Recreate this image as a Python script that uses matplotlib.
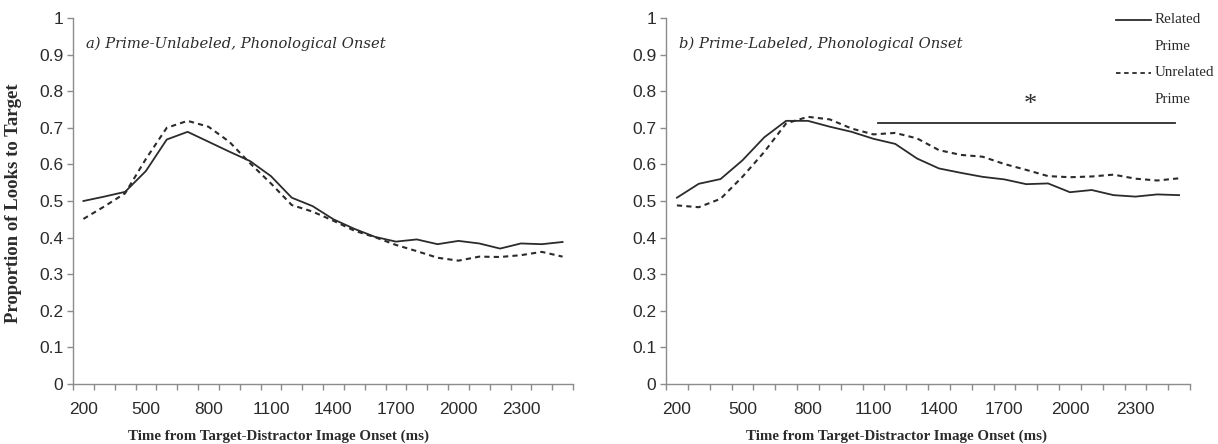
import numpy as np
import matplotlib
matplotlib.use("Agg")
import matplotlib.pyplot as plt
from matplotlib.lines import Line2D

# 100 ms time bins (categories on the x axis)
times = [200, 300, 400, 500, 600, 700, 800, 900, 1000, 1100, 1200, 1300,
         1400, 1500, 1600, 1700, 1800, 1900, 2000, 2100, 2200, 2300, 2400, 2500]
shown_labels = [200, 500, 800, 1100, 1400, 1700, 2000, 2300]
y_ticks = [0, 0.1, 0.2, 0.3, 0.4, 0.5, 0.6, 0.7, 0.8, 0.9, 1]

# a) Prime-Unlabeled
unlab_related = [0.500, 0.512, 0.525, 0.582, 0.668, 0.689, 0.662, 0.635,
                 0.609, 0.568, 0.509, 0.486, 0.450, 0.424, 0.402, 0.389,
                 0.395, 0.382, 0.391, 0.384, 0.370, 0.384, 0.382, 0.388]
unlab_unrelated = [0.451, 0.485, 0.521, 0.615, 0.700, 0.719, 0.703, 0.662,
                   0.603, 0.548, 0.489, 0.471, 0.446, 0.419, 0.401, 0.380,
                   0.363, 0.345, 0.337, 0.348, 0.347, 0.352, 0.361, 0.348]

# b) Prime-Labeled
lab_related = [0.509, 0.547, 0.560, 0.611, 0.674, 0.719, 0.719, 0.703,
               0.689, 0.670, 0.656, 0.616, 0.589, 0.577, 0.566, 0.559,
               0.546, 0.548, 0.524, 0.530, 0.516, 0.512, 0.518, 0.516]
lab_unrelated = [0.488, 0.483, 0.506, 0.566, 0.634, 0.712, 0.730, 0.723,
                 0.698, 0.682, 0.686, 0.671, 0.639, 0.626, 0.621, 0.601,
                 0.585, 0.568, 0.565, 0.567, 0.572, 0.561, 0.556, 0.562]

# significance bar in panel b
sig_start, sig_end, sig_level = 1120, 2480, 0.712
star_time, star_level = 1820, 0.762

W, H = 1218, 444
GREY = '#8c8c8c'
INK = '#2b2b2b'
TICKFONT = ['Liberation Sans', 'DejaVu Sans']
SERIF = ['Liberation Serif', 'DejaVu Serif']
DASH = (0, (2.5, 2))


def setup_axis(ax, title):
	"""Excel-like category axis with only left and bottom spines"""
	pos = np.arange(len(times)) + 0.5
	ax.set_xlim(0, len(times))
	ax.set_ylim(0, 1)
	for side in ['top', 'right']:
		ax.spines[side].set_visible(False)
	for side in ['left', 'bottom']:
		ax.spines[side].set_color(GREY)
		ax.spines[side].set_linewidth(1.0)

	# tick marks at category borders, labels at category centres
	ax.set_xticks(np.arange(len(times) + 1))
	ax.set_xticklabels([])
	lab_pos = [pos[times.index(t)] for t in shown_labels]
	ax.set_xticks(lab_pos, [str(t) for t in shown_labels], minor=True)
	ax.tick_params(axis='x', which='major', length=4.5, color=GREY, width=1.0)
	ax.tick_params(axis='x', which='minor', length=0, pad=13, labelsize=12.5, labelcolor=INK)

	ax.set_yticks(y_ticks, [('%g' % v) for v in y_ticks])
	ax.tick_params(axis='y', length=4, color=GREY, width=1.0, pad=3, labelsize=12.5, labelcolor=INK)
	for lab in ax.get_xticklabels(minor=True) + ax.get_yticklabels():
		lab.set_family(TICKFONT)

	ax.text(0.025, 0.93, title, transform=ax.transAxes, fontsize=10.6, style='italic',
			family=['DejaVu Serif'], color=INK, va='center', ha='left')
	return pos


fig = plt.figure(figsize=(W / 100, H / 100), dpi=100)
ax1 = fig.add_axes([73 / W, 60 / H, 500 / W, 366 / H])
ax2 = fig.add_axes([666 / W, 60 / H, 524 / W, 366 / H])

pos = setup_axis(ax1, 'a) Prime-Unlabeled, Phonological Onset')
ax1.plot(pos, unlab_related, color=INK, lw=1.3)
ax1.plot(pos, unlab_unrelated, color=INK, lw=1.5, ls=DASH)

pos = setup_axis(ax2, 'b) Prime-Labeled, Phonological Onset')
ax2.plot(pos, lab_related, color=INK, lw=1.3)
ax2.plot(pos, lab_unrelated, color=INK, lw=1.5, ls=DASH)

# significance bar and star
x0, x1 = np.interp([sig_start, sig_end], times, pos)
ax2.plot([x0, x1], [sig_level, sig_level], color=INK, lw=1.3)
ax2.text(np.interp(star_time, times, pos), star_level, '*', fontsize=19, family=SERIF,
		 ha='center', va='center', color=INK)

# legend drawn by hand so the line sits next to the first text line
for y, style, word in [(0.995, '-', 'Related'), (0.85, DASH, 'Unrelated')]:
	ax2.add_line(Line2D([0.858, 0.926], [y, y], transform=ax2.transAxes, color=INK,
						lw=1.3, ls=style, clip_on=False))
	ax2.text(0.933, y, word, transform=ax2.transAxes, fontsize=10.8, family=SERIF,
			 va='center', ha='left', color=INK, clip_on=False)
	ax2.text(0.933, y - 0.074, 'Prime', transform=ax2.transAxes, fontsize=10.8, family=SERIF,
			 va='center', ha='left', color=INK, clip_on=False)

# axis titles
fig.text(14 / W, 1 - 203 / H, 'Proportion of Looks to Target', rotation=90, fontsize=13.5,
		 fontweight='bold', family=SERIF, ha='center', va='center', color=INK)
for cx in [279, 897]:
	fig.text(cx / W, 1 - 436 / H, 'Time from Target-Distractor Image Onset (ms)', fontsize=10.8,
			 fontweight='bold', family=SERIF, ha='center', va='center', color=INK)

fig.savefig('out.png', dpi=100)
